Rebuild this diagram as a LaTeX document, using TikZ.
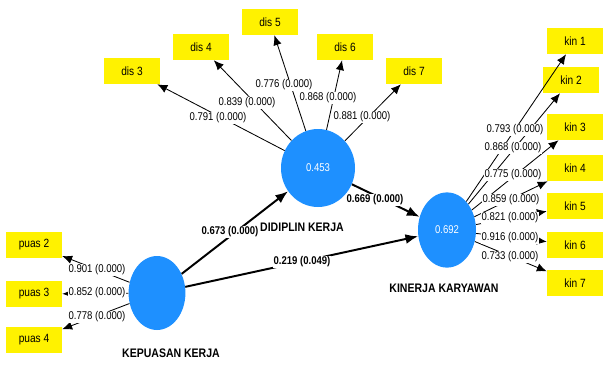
\documentclass[tikz,border=0pt]{standalone}
\usepackage{fontspec}
\setmainfont{Liberation Sans}[FakeStretch=0.85]
\usetikzlibrary{shapes.geometric,arrows.meta}
\definecolor{plsblue}{RGB}{30,144,255}
\tikzset{
  ind/.style={fill=yellow, minimum width=14mm, minimum height=6.5mm, inner sep=0pt,
    font=\fontsize{8.5}{10}\selectfont},
  lv/.style={ellipse, fill=plsblue, text=white, inner sep=0pt,
    font=\fontsize{8}{10}\selectfont},
  lvname/.style={font=\fontsize{8.8}{11}\selectfont\bfseries},
  load/.style={-{Latex[length=7pt,width=6pt]}, line width=0.6pt},
  inner/.style={-{Latex[length=9pt,width=7pt]}, line width=1.4pt},
  lbl/.style={fill=white, inner sep=0.6pt, font=\fontsize{8}{9}\selectfont},
  blbl/.style={lbl, font=\fontsize{8}{9}\selectfont\bfseries},
}
\begin{document}
\begin{tikzpicture}[x=0.25mm,y=-0.25mm]
  \useasboundingbox (0,0) rectangle (608,364);
  % latent variables
  \node[lv, minimum width=18.5mm, minimum height=19.5mm] (dis) at (318,168) {0.453};
  \node[lv, minimum width=14.2mm, minimum height=18.5mm] (puas) at (157,293) {};
  \node[lv, minimum width=14.5mm, minimum height=18.8mm] (kin) at (447,230) {0.692};
  \node[lvname] (disname) at (302,227) {DIDIPLIN KERJA};
  \node[lvname] (puasname) at (171,353) {KEPUASAN KERJA};
  \node[lvname] (kinname) at (444,288) {KINERJA KARYAWAN};
  % indicators
  \node[ind] (dis3) at (132,71) {dis 3};
  \node[ind] (dis4) at (201,47) {dis 4};
  \node[ind] (dis5) at (270,22) {dis 5};
  \node[ind] (dis6) at (345,47) {dis 6};
  \node[ind] (dis7) at (414,71) {dis 7};
  \node[ind] (puas2) at (34,245) {puas 2};
  \node[ind] (puas3) at (34,294) {puas 3};
  \node[ind] (puas4) at (34,340) {puas 4};
  \node[ind] (kin1) at (575,41) {kin 1};
  \node[ind] (kin2) at (571,80) {kin 2};
  \node[ind] (kin3) at (575,127) {kin 3};
  \node[ind] (kin4) at (575,168) {kin 4};
  \node[ind] (kin5) at (575,206) {kin 5};
  \node[ind] (kin6) at (575,245) {kin 6};
  \node[ind] (kin7) at (575,283) {kin 7};
  % outer loadings
  \foreach \i in {3,...,7} \draw[load] (dis) -- (dis\i);
  \foreach \i in {2,3,4} \draw[load] (puas) -- (puas\i);
  \foreach \i in {1,...,7} \draw[load] (kin) -- (kin\i);
  % inner model
  \draw[inner] (puas) -- (dis);
  \draw[inner] (puas) -- (kin);
  \draw[inner] (dis) -- (kin);
  % labels
  \node[lbl] (l3) at (218,118) {0.791 (0.000)};
  \node[lbl] (l4) at (247,103) {0.839 (0.000)};
  \node[lbl] (l5) at (284,85) {0.776 (0.000)};
  \node[lbl] (l6) at (328,98) {0.868 (0.000)};
  \node[lbl] (l7) at (362,117) {0.881 (0.000)};
  \node[lbl] (p2) at (97,270) {0.901 (0.000)};
  \node[lbl] (p3) at (97,293) {0.852 (0.000)};
  \node[lbl] (p4) at (97,317) {0.778 (0.000)};
  \node[lbl] (k1) at (515,130) {0.793 (0.000)};
  \node[lbl] (k2) at (513,148) {0.868 (0.000)};
  \node[lbl] (k3) at (513,175) {0.775 (0.000)};
  \node[lbl] (k4) at (511,200) {0.859 (0.000)};
  \node[lbl] (k5) at (510,218) {0.821 (0.000)};
  \node[lbl] (k6) at (510,238) {0.916 (0.000)};
  \node[lbl] (k7) at (510,257) {0.733 (0.000)};
  \node[blbl] (b1) at (230,232) {0.673 (0.000)};
  \node[blbl] (b2) at (302,262) {0.219 (0.049)};
  \node[blbl] (b3) at (375,200) {0.669 (0.000)};
\end{tikzpicture}
\end{document}
